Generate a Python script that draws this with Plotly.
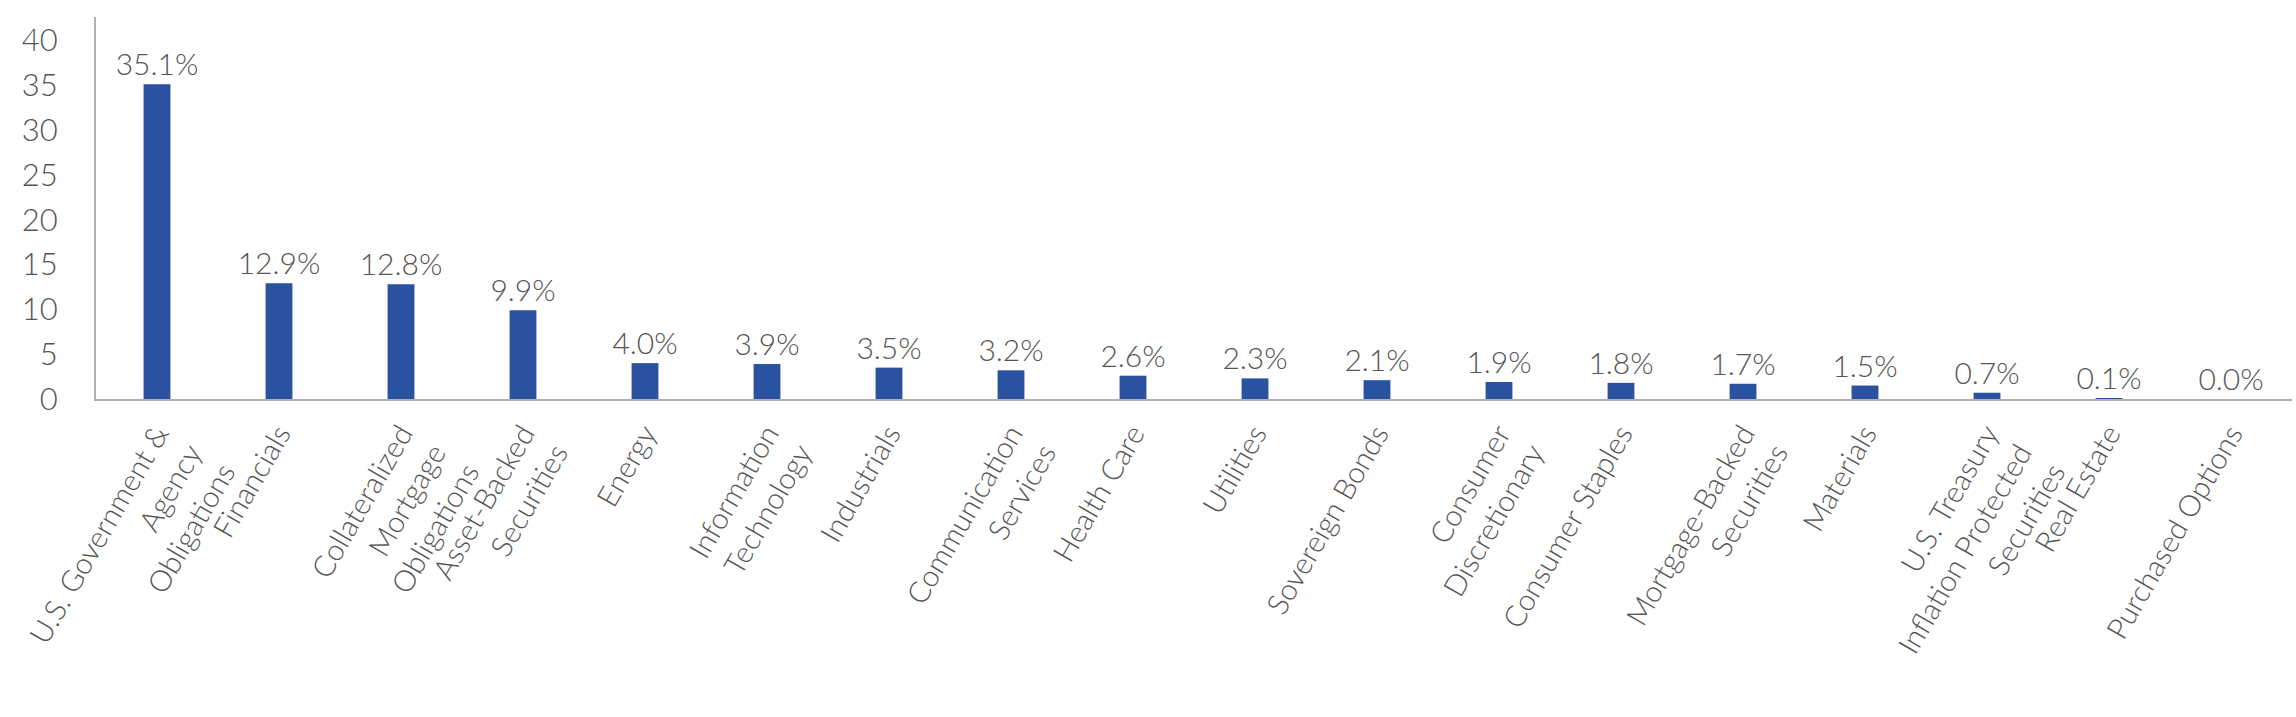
import plotly.graph_objects as go

categories = [
    "U.S. Government &<br>Agency<br>Obligations",
    "Financials",
    "Collateralized<br>Mortgage<br>Obligations",
    "Asset-Backed<br>Securities",
    "Energy",
    "Information<br>Technology",
    "Industrials",
    "Communication<br>Services",
    "Health Care",
    "Utilities",
    "Sovereign Bonds",
    "Consumer<br>Discretionary",
    "Consumer Staples",
    "Mortgage-Backed<br>Securities",
    "Materials",
    "U.S. Treasury<br>Inflation Protected<br>Securities",
    "Real Estate",
    "Purchased Options",
]
values = [35.1, 12.9, 12.8, 9.9, 4.0, 3.9, 3.5, 3.2, 2.6, 2.3, 2.1, 1.9, 1.8, 1.7, 1.5, 0.7, 0.1, 0.0]
labels = [f"{v:.1f}%" for v in values]
y_ticks = [0, 5, 10, 15, 20, 25, 30, 35, 40]

TEXT = "#555555"
FONT = "Lato"

fig = go.Figure(
    go.Bar(
        x=categories,
        y=values,
        text=labels,
        textposition="outside",
        textangle=0,
        constraintext="none",
        cliponaxis=False,
        textfont=dict(family=FONT, size=30, color=TEXT, weight=300),
        marker=dict(color="#2B52A0", line=dict(width=0)),
        width=0.22,
    )
)

fig.update_layout(
    width=2296,
    height=717,
    margin=dict(l=96, r=4, t=17, b=318),
    plot_bgcolor="white",
    paper_bgcolor="white",
    showlegend=False,
    font=dict(family=FONT, color=TEXT),
)
fig.update_xaxes(
    tickangle=-60,
    tickfont=dict(family=FONT, size=29.5, color=TEXT, weight=300),
    showline=True,
    linecolor="#B0B0B0",
    linewidth=2,
    showgrid=False,
    zeroline=False,
    ticks="",
    ticklabelstandoff=4,
)
fig.update_yaxes(
    range=[0, 42.6],
    tickvals=y_ticks,
    tickfont=dict(family=FONT, size=31, color=TEXT, weight=300),
    showline=True,
    linecolor="#B0B0B0",
    linewidth=2,
    showgrid=False,
    zeroline=False,
    ticks="",
    ticklabelstandoff=30,
)

fig.write_html("out.html")
